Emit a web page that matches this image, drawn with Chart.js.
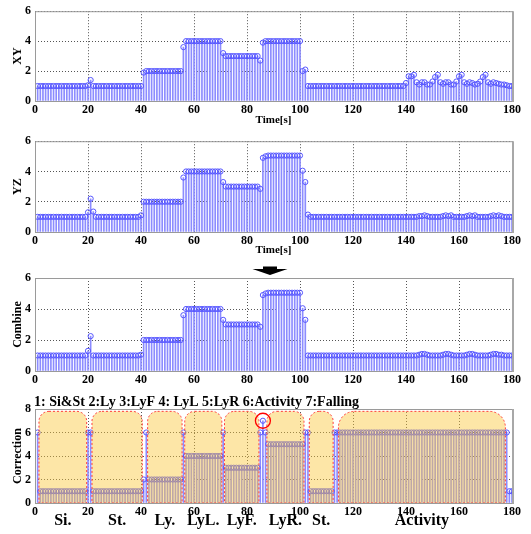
<!DOCTYPE html>
<html>
<head>
<meta charset="utf-8">
<script src="https://cdn.jsdelivr.net/npm/chart.js@4.4.1/dist/chart.umd.min.js"></script>
<style>
html, body { margin: 0; padding: 0; background: #fff; }
#wrap { position: relative; width: 531px; height: 534px; overflow: hidden; }
#wrap canvas, #wrap svg { position: absolute; left: 0; }
</style>
</head>
<body>
<div id="wrap">
<canvas id="cXY" width="531" height="126" style="top:0;width:531px;height:126px"></canvas>
<canvas id="cYZ" width="531" height="126" style="top:130px;width:531px;height:126px"></canvas>
<svg width="40" height="14" style="left:250px;top:264px">
  <polygon points="13,2.5 27,2.5 27,5 37.5,5 20,11 2.5,5 13,5" fill="#000"/>
</svg>
<canvas id="cComb" width="531" height="133" style="top:262px;width:531px;height:133px"></canvas>
<canvas id="cCorr" width="531" height="144" style="top:390px;width:531px;height:144px"></canvas>
</div>
<script>
// sample times, one stem per second
const time = Array.from({ length: 180 }, (_, i) => i + 1);

const xyValues = [
  1, 1, 1, 1, 1, 1, 1, 1, 1, 1, 1, 1, 1, 1, 1, 1, 1, 1, 1, 1.05,
  1.4, 1, 1, 1, 1, 1, 1, 1, 1, 1, 1, 1, 1, 1, 1, 1, 1, 1, 1, 1,
  1.9, 2, 2, 2, 2, 2, 2, 2, 2, 2, 2, 2, 2, 2, 2, 3.6, 4, 4, 4, 4,
  4, 4, 4, 4, 4, 4, 4, 4, 4, 4, 3.2, 3, 3, 3, 3, 3, 3, 3, 3, 3,
  3, 3, 3, 3, 2.7, 3.9, 4, 4, 4, 4, 4, 4, 4, 4, 4, 4, 4, 4, 4, 4,
  2, 2.1, 1, 1, 1, 1, 1, 1, 1, 1, 1, 1, 1, 1, 1, 1, 1, 1, 1, 1,
  1, 1, 1, 1, 1, 1, 1, 1, 1, 1, 1, 1, 1, 1, 1, 1, 1, 1, 1, 1.2,
  1.65, 1.65, 1.75, 1.25, 1.1, 1.25, 1.25, 1.1, 1.1, 1.3, 1.6, 1.75, 1.25, 1.15, 1.25, 1.25, 1.1, 1.1, 1.3, 1.65,
  1.75, 1.25, 1.15, 1.25, 1.2, 1.1, 1.15, 1.3, 1.6, 1.75, 1.25, 1.15, 1.25, 1.2, 1.15, 1.1, 1.1, 1.05, 1, 1
];

const yzValues = [
  1, 1, 1, 1, 1, 1, 1, 1, 1, 1, 1, 1, 1, 1, 1, 1, 1, 1, 1, 1.3,
  2.2, 1.35, 1, 1, 1, 1, 1, 1, 1, 1, 1, 1, 1, 1, 1, 1, 1, 1, 1, 1.1,
  2, 2, 2, 2, 2, 2, 2, 2, 2, 2, 2, 2, 2, 2, 2, 3.6, 4, 4, 4, 4,
  4, 4, 4, 4, 4, 4, 4, 4, 4, 4, 3.3, 3, 3, 3, 3, 3, 3, 3, 3, 3,
  3, 3, 3, 3, 2.85, 4.9, 5, 5.05, 5.05, 5.05, 5.05, 5.05, 5.05, 5.05, 5.05, 5.05, 5.05, 5.05, 5.05, 5.05,
  4.05, 3.3, 1.15, 1, 1, 1, 1, 1, 1, 1, 1, 1, 1, 1, 1, 1, 1, 1, 1, 1,
  1, 1, 1, 1, 1, 1, 1, 1, 1, 1, 1, 1, 1, 1, 1, 1, 1, 1, 1, 1,
  1, 1, 1, 1, 1.05, 1.05, 1.1, 1.05, 1, 1, 1, 1, 1, 1.05, 1.1, 1.05, 1.1, 1, 1, 1,
  1, 1, 1.05, 1.1, 1.05, 1.1, 1, 1, 1, 1, 1, 1.05, 1.1, 1.05, 1.1, 1.05, 1, 1, 1, 1
];

const combineValues = [
  1, 1, 1, 1, 1, 1, 1, 1, 1, 1, 1, 1, 1, 1, 1, 1, 1, 1, 1, 1.3,
  2.25, 1, 1, 1, 1, 1, 1, 1, 1, 1, 1, 1, 1, 1, 1, 1, 1, 1, 1, 1.05,
  2, 2, 2, 2, 2, 2, 2, 2, 2, 2, 2, 2, 2, 2, 2, 3.6, 4, 4, 4, 4,
  4, 4, 4, 4, 4, 4, 4, 4, 4, 4, 3.3, 3, 3, 3, 3, 3, 3, 3, 3, 3,
  3, 3, 3, 3, 2.85, 4.9, 5, 5.05, 5.05, 5.05, 5.05, 5.05, 5.05, 5.05, 5.05, 5.05, 5.05, 5.05, 5.05, 5.05,
  4.05, 3.3, 1, 1, 1, 1, 1, 1, 1, 1, 1, 1, 1, 1, 1, 1, 1, 1, 1, 1,
  1, 1, 1, 1, 1, 1, 1, 1, 1, 1, 1, 1, 1, 1, 1, 1, 1, 1, 1, 1,
  1, 1, 1, 1, 1.05, 1.1, 1.1, 1.05, 1, 1, 1, 1, 1, 1.05, 1.1, 1.1, 1.05, 1, 1, 1,
  1, 1, 1.05, 1.1, 1.1, 1.05, 1, 1, 1, 1, 1, 1.05, 1.1, 1.1, 1.05, 1.05, 1, 1, 1, 1
];

const correctionValues = [
  6, 1, 1, 1, 1, 1, 1, 1, 1, 1, 1, 1, 1, 1, 1, 1, 1, 1, 1, 6,
  6, 1, 1, 1, 1, 1, 1, 1, 1, 1, 1, 1, 1, 1, 1, 1, 1, 1, 1, 1,
  2, 6, 2, 2, 2, 2, 2, 2, 2, 2, 2, 2, 2, 2, 2, 6, 4, 4, 4, 4,
  4, 4, 4, 4, 4, 4, 4, 4, 4, 4, 6, 3, 3, 3, 3, 3, 3, 3, 3, 3,
  3, 3, 3, 3, 6, 7, 6, 5, 5, 5, 5, 5, 5, 5, 5, 5, 5, 5, 5, 5,
  5, 6, 6, 1, 1, 1, 1, 1, 1, 1, 1, 1, 6, 6, 6, 6, 6, 6, 6, 6,
  6, 6, 6, 6, 6, 6, 6, 6, 6, 6, 6, 6, 6, 6, 6, 6, 6, 6, 6, 6,
  6, 6, 6, 6, 6, 6, 6, 6, 6, 6, 6, 6, 6, 6, 6, 6, 6, 6, 6, 6,
  6, 6, 6, 6, 6, 6, 6, 6, 6, 6, 6, 6, 6, 6, 6, 6, 6, 6, 1, 1
];

// highlighted segments of the correction panel
const segmentLabels = ['Si.', 'St.', 'Ly.', 'LyL.', 'LyF.', 'LyR.', 'St.', 'Activity'];
const segmentStart = [1.5, 21.5, 42.5, 56.5, 71.5, 87.5, 103.5, 114.5];
const segmentEnd = [19.5, 40.5, 55.5, 70.5, 84.5, 101.5, 112.5, 177.5];
const segmentTop = 7.8;
const fallTime = 86;
const fallValue = 7;
const classLegend = '1: Si&St 2:Ly 3:LyF 4: LyL 5:LyR 6:Activity 7:Falling';

const serif = '"Liberation Serif", "Times New Roman", serif';

const frame = {
  id: 'frame',
  afterDraw(chart) {
    const { ctx, chartArea: a } = chart;
    ctx.save();
    ctx.strokeStyle = '#9a9a9a';
    ctx.lineWidth = 1;
    ctx.strokeRect(a.left + 0.5, a.top + 0.5, a.right - a.left, a.bottom - a.top);
    ctx.lineWidth = 2;
    ctx.strokeStyle = '#a8a8a8';
    ctx.beginPath();
    ctx.moveTo(a.right + 1, a.top);
    ctx.lineTo(a.right + 1, a.bottom + 1);
    ctx.stroke();
    ctx.restore();
  }
};

const correctionMarks = {
  id: 'correctionMarks',
  afterDatasetsDraw(chart) {
    const { ctx, scales: { x, y } } = chart;
    ctx.save();
    segmentStart.forEach((s, i) => {
      const l = x.getPixelForValue(s);
      const r = x.getPixelForValue(segmentEnd[i]);
      const t = y.getPixelForValue(segmentTop);
      const b = y.getPixelForValue(0);
      const rad = Math.min(i === segmentStart.length - 1 ? 16 : 10, (r - l) / 2);
      ctx.beginPath();
      ctx.roundRect(l, t, r - l, b - t, [rad, rad, 0, 0]);
      ctx.fillStyle = 'rgba(250, 200, 60, 0.45)';
      ctx.fill();
      ctx.setLineDash([2, 2]);
      ctx.strokeStyle = '#ff3b3b';
      ctx.lineWidth = 1;
      ctx.stroke();
    });
    ctx.setLineDash([]);
    ctx.beginPath();
    ctx.arc(x.getPixelForValue(fallTime), y.getPixelForValue(fallValue), 7.5, 0, Math.PI * 2);
    ctx.strokeStyle = '#ff0000';
    ctx.lineWidth = 1.3;
    ctx.stroke();
    ctx.restore();
  },
  afterDraw(chart) {
    const { ctx, scales: { x } } = chart;
    ctx.save();
    ctx.fillStyle = '#000';
    ctx.font = 'bold 14px ' + serif;
    ctx.textBaseline = 'middle';
    ctx.textAlign = 'left';
    ctx.fillText(classLegend, 34, 12);
    ctx.font = 'bold 16px ' + serif;
    ctx.textAlign = 'center';
    segmentLabels.forEach((lab, i) => {
      ctx.fillText(lab, x.getPixelForValue((segmentStart[i] + segmentEnd[i]) / 2), 131);
    });
    ctx.restore();
  }
};

function stemChart(id, values, yMax, yTitle, showTime, padTop, xHeight, extra) {
  const points = time.map((t, i) => ({ x: t, y: values[i] }));
  const tickFont = { family: serif, size: 12, weight: 'bold' };
  return new Chart(document.getElementById(id), {
    type: 'bar',
    data: {
      datasets: [
        {
          type: 'line',
          data: points,
          showLine: false,
          pointRadius: 2.6,
          pointBorderWidth: 1,
          pointBorderColor: '#5656ff',
          pointBackgroundColor: 'rgba(0,0,0,0)',
          order: 0
        },
        {
          type: 'bar',
          data: points,
          backgroundColor: '#8c8cff',
          barThickness: 1,
          order: 1
        }
      ]
    },
    options: {
      responsive: false,
      animation: false,
      devicePixelRatio: 1,
      events: [],
      layout: { padding: { top: padTop, right: 19, left: 0, bottom: 0 } },
      plugins: { legend: { display: false }, tooltip: { enabled: false } },
      scales: {
        x: {
          type: 'linear',
          min: 0,
          max: 180,
          offset: false,
          grid: { offset: false, color: '#555', lineWidth: 1, drawTicks: false },
          border: { display: false, dash: [1, 2] },
          ticks: { stepSize: 20, padding: 2, color: '#000', font: tickFont, maxRotation: 0 },
          title: {
            display: showTime,
            text: 'Time[s]',
            color: '#000',
            padding: 0,
            font: { family: serif, size: 11, weight: 'bold', lineHeight: 1 }
          },
          afterFit: (s) => { s.height = xHeight; }
        },
        y: {
          min: 0,
          max: yMax,
          grid: { color: '#555', lineWidth: 1, drawTicks: false },
          border: { display: false, dash: [1, 2] },
          ticks: { stepSize: 2, padding: 4, color: '#000', font: tickFont },
          title: {
            display: true,
            text: yTitle,
            color: '#000',
            padding: { top: 12, bottom: 0 },
            font: { family: serif, size: 12, weight: 'bold', lineHeight: 1 }
          },
          afterFit: (s) => { s.width = 35; }
        }
      }
    },
    plugins: [frame].concat(extra || [])
  });
}

stemChart('cXY', xyValues, 6, 'XY', true, 8, 25);
stemChart('cYZ', yzValues, 6, 'YZ', true, 10, 24);
stemChart('cComb', combineValues, 6, 'Combine', false, 16, 24);
stemChart('cCorr', correctionValues, 8, 'Correction', false, 19, 31, [correctionMarks]);
</script>
</body>
</html>
